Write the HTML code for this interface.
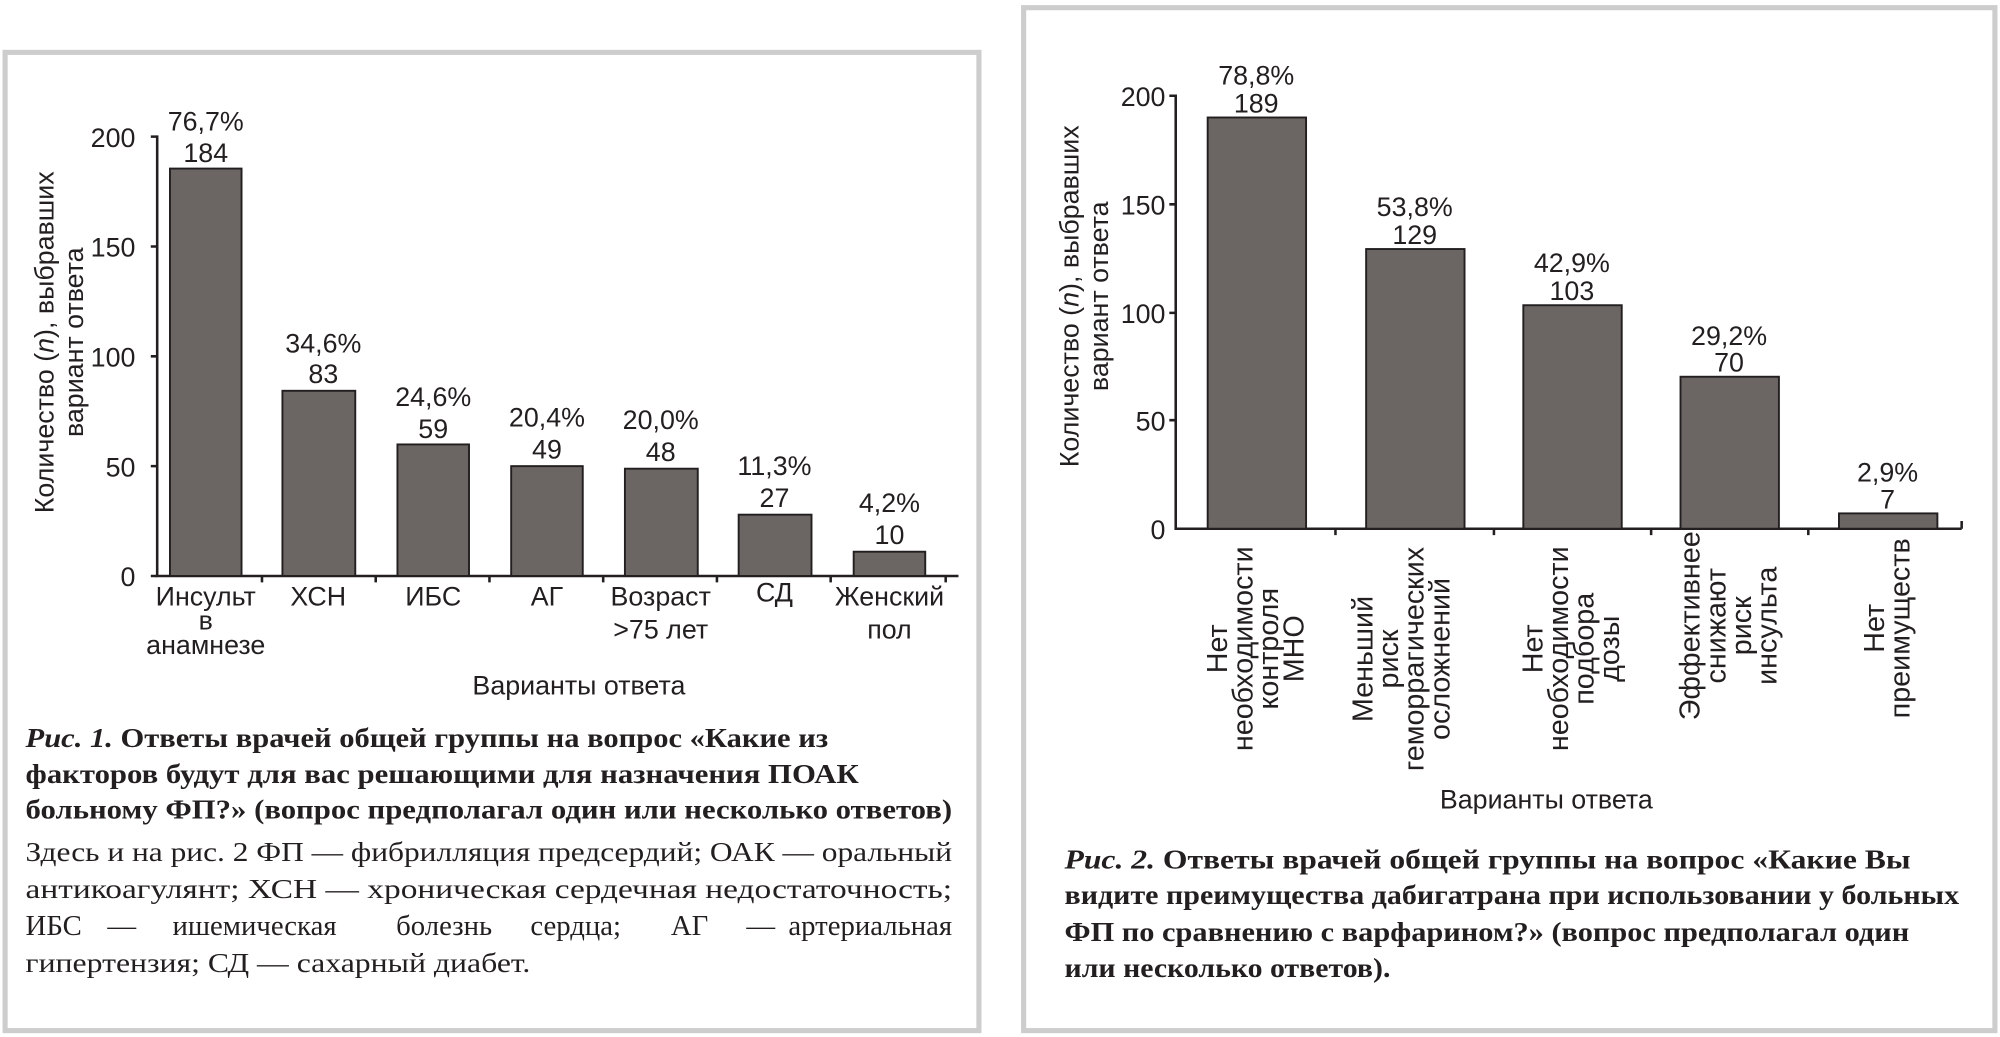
<!DOCTYPE html>
<html><head><meta charset="utf-8"><style>
html,body{margin:0;padding:0;background:#fff;}
svg{display:block;}
text{font-family:"Liberation Sans",sans-serif;fill:#231f20;}
.s{font-family:"Liberation Serif",serif;}
</style></head><body>
<svg width="2000" height="1037" viewBox="0 0 1565 812" preserveAspectRatio="none" xmlns="http://www.w3.org/2000/svg">
<rect x="0" y="0" width="1565" height="812" fill="#fff"/>
<rect x="4" y="41" width="762" height="766" fill="none" stroke="#cdcdcd" stroke-width="4"/>
<rect x="801" y="6" width="760" height="801" fill="none" stroke="#cdcdcd" stroke-width="4"/>

<!-- LEFT CHART -->
<g stroke="#231f20" stroke-width="2" fill="none">
<path d="M118,107 H123 V451 H750"/>
<path d="M118,193 H123 M118,279 H123 M118,365 H123 M118,451 H123"/>
<path d="M205,451 v5 M294,451 v5 M383,451 v5 M472,451 v5 M561,451 v5 M650,451 v5 M740,451 v5"/>
</g>
<g fill="#6b6663" stroke="#231f20" stroke-width="1.5">
<rect x="133" y="132" width="56" height="319"/>
<rect x="221" y="306" width="57" height="145"/>
<rect x="311" y="348" width="56" height="103"/>
<rect x="400" y="365" width="56" height="86"/>
<rect x="489" y="367" width="57" height="84"/>
<rect x="578" y="403" width="57" height="48"/>
<rect x="668" y="432" width="56" height="19"/>
</g>
<g font-size="21" text-anchor="end">
<text x="106" y="115">200</text><text x="106" y="201">150</text><text x="106" y="287">100</text><text x="106" y="373">50</text><text x="106" y="459">0</text>
</g>
<g font-size="21" text-anchor="middle">
<text x="161" y="102">76,7%</text><text x="161" y="127">184</text>
<text x="253" y="276">34,6%</text><text x="253" y="300">83</text>
<text x="339" y="318">24,6%</text><text x="339" y="343">59</text>
<text x="428" y="334">20,4%</text><text x="428" y="359">49</text>
<text x="517" y="336">20,0%</text><text x="517" y="361">48</text>
<text x="606" y="372">11,3%</text><text x="606" y="397">27</text>
<text x="696" y="401">4,2%</text><text x="696" y="426">10</text>
<text x="161" y="474">Инсульт</text><text x="161" y="493">в</text><text x="161" y="512">анамнезе</text>
<text x="249" y="474">ХСН</text>
<text x="339" y="474">ИБС</text>
<text x="428" y="474">АГ</text>
<text x="517" y="474">Возраст</text><text x="517" y="500">&gt;75 лет</text>
<text x="606" y="471">СД</text>
<text x="696" y="474">Женский</text><text x="696" y="500">пол</text>
<text x="453" y="544">Варианты ответа</text>
</g>
<g font-size="21" text-anchor="middle" transform="translate(42,268) rotate(-90)">
<text x="0" y="0">Количество (<tspan font-style="italic">n</tspan>), выбравших</text>
<text x="0" y="23">вариант ответа</text>
</g>

<g font-size="21.5" font-weight="bold">
<text class="s" x="20" y="585" textLength="628" lengthAdjust="spacingAndGlyphs"><tspan font-style="italic">Рис. 1.</tspan> Ответы врачей общей группы на вопрос «Какие из</text>
<text class="s" x="20" y="613" textLength="652" lengthAdjust="spacingAndGlyphs">факторов будут для вас решающими для назначения ПОАК</text>
<text class="s" x="20" y="641" textLength="725" lengthAdjust="spacingAndGlyphs">больному ФП?» (вопрос предполагал один или несколько ответов)</text>
</g>
<g font-size="21.5">
<text class="s" x="20" y="674" textLength="725" lengthAdjust="spacingAndGlyphs">Здесь и на рис. 2 ФП — фибрилляция предсердий; ОАК — оральный</text>
<text class="s" x="20" y="703" textLength="725" lengthAdjust="spacingAndGlyphs">антикоагулянт; ХСН — хроническая сердечная недостаточность;</text>
<g font-size="22.5">
<text class="s" x="20" y="732">ИБС</text>
<text class="s" x="84" y="732">—</text>
<text class="s" x="135" y="732">ишемическая</text>
<text class="s" x="310" y="732">болезнь</text>
<text class="s" x="415" y="732">сердца;</text>
<text class="s" x="525" y="732">АГ</text>
<text class="s" x="584" y="732">—</text>
<text class="s" x="745" y="732" text-anchor="end">артериальная</text>
</g>
<text class="s" x="20" y="761" textLength="395" lengthAdjust="spacingAndGlyphs">гипертензия; СД — сахарный диабет.</text>
</g>

<!-- RIGHT CHART -->
<g stroke="#231f20" stroke-width="2" fill="none">
<path d="M915,75 H920 V414 H1535"/>
<path d="M915,160 H920 M915,245 H920 M915,329 H920"/>
<path d="M1045,414 v5 M1169,414 v5 M1292,414 v5 M1415,414 v5 M1535,408 v6"/>
</g>
<g fill="#6b6663" stroke="#231f20" stroke-width="1.5">
<rect x="945" y="92" width="77" height="322"/>
<rect x="1069" y="195" width="77" height="219"/>
<rect x="1192" y="239" width="77" height="175"/>
<rect x="1315" y="295" width="77" height="119"/>
<rect x="1439" y="402" width="77" height="12"/>
</g>
<g font-size="21" text-anchor="end">
<text x="912" y="83">200</text><text x="912" y="168">150</text><text x="912" y="253">100</text><text x="912" y="337">50</text><text x="912" y="422">0</text>
</g>
<g font-size="21" text-anchor="middle">
<text x="983" y="66">78,8%</text><text x="983" y="88">189</text>
<text x="1107" y="169">53,8%</text><text x="1107" y="191">129</text>
<text x="1230" y="213">42,9%</text><text x="1230" y="235">103</text>
<text x="1353" y="270">29,2%</text><text x="1353" y="291">70</text>
<text x="1477" y="377">2,9%</text><text x="1477" y="398">7</text>
<text x="1210" y="633">Варианты ответа</text>
</g>
<g font-size="22.5" text-anchor="middle" dominant-baseline="central">
<text transform="translate(953,508) rotate(-90)">Нет</text>
<text transform="translate(973,508) rotate(-90)">необходимости</text>
<text transform="translate(993,508) rotate(-90)">контроля</text>
<text transform="translate(1013,508) rotate(-90)">МНО</text>
<text transform="translate(1067,516) rotate(-90)">Меньший</text>
<text transform="translate(1087,516) rotate(-90)">риск</text>
<text transform="translate(1107,516) rotate(-90)">геморрагических</text>
<text transform="translate(1127,516) rotate(-90)">осложнений</text>
<text transform="translate(1200,508) rotate(-90)">Нет</text>
<text transform="translate(1220,508) rotate(-90)">необходимости</text>
<text transform="translate(1240,508) rotate(-90)">подбора</text>
<text transform="translate(1260,508) rotate(-90)">дозы</text>
<text transform="translate(1323,490) rotate(-90)">Эффективнее</text>
<text transform="translate(1343,490) rotate(-90)">снижают</text>
<text transform="translate(1363,490) rotate(-90)">риск</text>
<text transform="translate(1383,490) rotate(-90)">инсульта</text>
<text transform="translate(1467,492) rotate(-90)">Нет</text>
<text transform="translate(1487,492) rotate(-90)">преимуществ</text>
</g>
<g font-size="21" text-anchor="middle" transform="translate(844,232) rotate(-90)">
<text x="0" y="0">Количество (<tspan font-style="italic">n</tspan>), выбравших</text>
<text x="0" y="23">вариант ответа</text>
</g>

<g font-size="21.5" font-weight="bold">
<text class="s" x="833" y="680" textLength="662" lengthAdjust="spacingAndGlyphs"><tspan font-style="italic">Рис. 2.</tspan> Ответы врачей общей группы на вопрос «Какие Вы</text>
<text class="s" x="833" y="708" textLength="700" lengthAdjust="spacingAndGlyphs">видите преимущества дабигатрана при использовании у больных</text>
<text class="s" x="833" y="737" textLength="661" lengthAdjust="spacingAndGlyphs">ФП по сравнению с варфарином?» (вопрос предполагал один</text>
<text class="s" x="833" y="765" textLength="255" lengthAdjust="spacingAndGlyphs">или несколько ответов).</text>
</g>
</svg>
</body></html>
